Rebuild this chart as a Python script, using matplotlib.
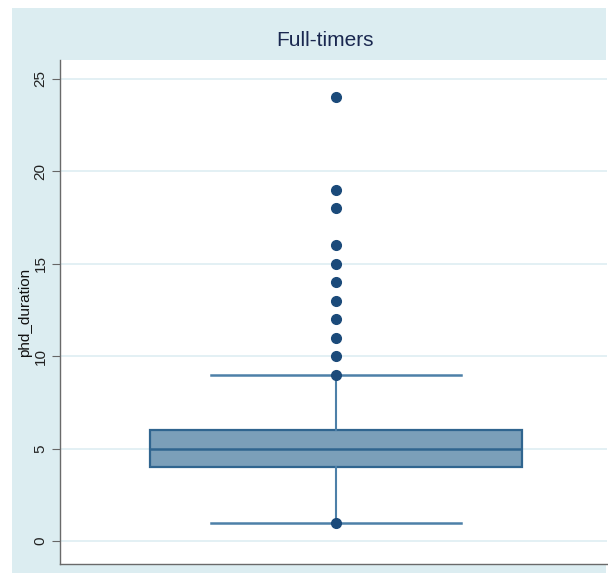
import matplotlib
matplotlib.use("Agg")
import matplotlib.pyplot as plt
from matplotlib.patches import Rectangle

# Box summary (phd_duration, full-timers)
q1, median, q3 = 4, 5, 6
whisker_low, whisker_high = 1, 9
outliers = [1, 9, 10, 11, 12, 13, 14, 15, 16, 18, 19, 24]
y_ticks = [0, 5, 10, 15, 20, 25]

W, H = 608, 573
BAND = "#dcedf1"
BOX_FACE = "#7b9fb9"
BOX_EDGE = "#30658f"
WHISK = "#4d80a8"
DOT = "#1b4a7a"

plt.rcParams["font.family"] = ["Liberation Sans", "DejaVu Sans"]

fig = plt.figure(figsize=(W / 100, H / 100), dpi=100)
fig.patch.set_facecolor("white")

# light blue graph region behind the plot area
fig.patches.append(Rectangle((12 / W, 0), (W - 14) / W, (H - 8) / H,
                             transform=fig.transFigure, facecolor=BAND,
                             edgecolor="none", zorder=-10))

left, right, top, bottom = 60, 607, 60, 564
ax = fig.add_axes([left / W, 1 - bottom / H, (right - left) / W, (bottom - top) / H])
ax.set_zorder(5)
ax.set_facecolor("white")

stats = [dict(med=median, q1=q1, q3=q3, whislo=whisker_low, whishi=whisker_high,
              fliers=outliers)]
ax.bxp(stats, positions=[1.01], widths=1.36, capwidths=0.914, patch_artist=True,
       boxprops=dict(facecolor=BOX_FACE, edgecolor=BOX_EDGE, linewidth=1.6),
       medianprops=dict(color=BOX_EDGE, linewidth=1.8),
       whiskerprops=dict(color=WHISK, linewidth=1.5),
       capprops=dict(color=WHISK, linewidth=1.8),
       flierprops=dict(marker="o", markersize=7, markerfacecolor=DOT,
                       markeredgecolor=DOT), zorder=3)

ax.set_xlim(0, 2)
ax.set_ylim(-1.24, 26.0)
ax.set_yticks(y_ticks)
ax.set_yticklabels([str(t) for t in y_ticks], rotation=90, va="center",
                   fontsize=11, color="#222222")
ax.set_xticks([])
ax.tick_params(axis="y", length=6, width=0.8, color="#666666", pad=3)
ax.grid(axis="y", color="#e3f0f4", linewidth=1.4, zorder=0)
ax.set_axisbelow(True)

for side in ("top", "right"):
    ax.spines[side].set_visible(False)
for side in ("left", "bottom"):
    ax.spines[side].set_color("#6a6a6a")
    ax.spines[side].set_linewidth(1.0)

ax.set_ylabel("phd_duration", fontsize=11, color="#111111", labelpad=1)

fig.text(325 / W, 1 - 40 / H, "Full-timers", ha="center", va="center",
         fontsize=15, color="#1a2850")

fig.savefig("out.png", dpi=100)
